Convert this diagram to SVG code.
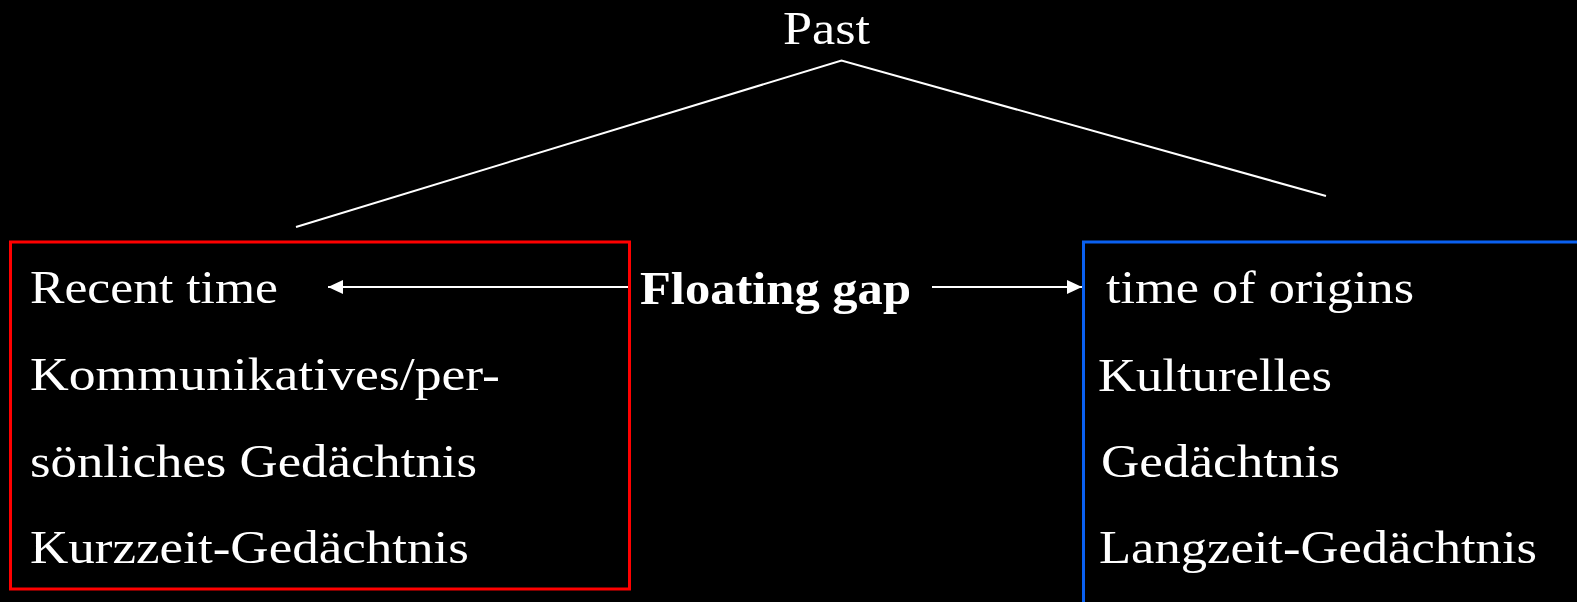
<svg xmlns="http://www.w3.org/2000/svg" width="1577" height="602" viewBox="0 0 1577 602">
<defs>
<style>
text{font-family:"Liberation Serif","Times New Roman",serif;font-size:46px;fill:#fff}
.b{font-weight:bold}
.conn{stroke:#fff;stroke-width:2;fill:none}
</style>
<marker id="ah" markerWidth="15" markerHeight="14" refX="15" refY="7" orient="auto" markerUnits="userSpaceOnUse">
<path d="M0,0 L15,7 L0,14 Z" fill="#fff"/>
</marker>
</defs>
<rect width="1577" height="602" fill="#000"/>
<g id="past"><text x="783" y="44" textLength="87" lengthAdjust="spacingAndGlyphs">Past</text></g>
<g id="recent">
<rect x="10.5" y="242" width="619" height="347" fill="none" stroke="#ff0000" stroke-width="3"/>
<text x="30" y="303" textLength="248" lengthAdjust="spacingAndGlyphs">Recent time</text>
<text x="30" y="390" textLength="470" lengthAdjust="spacingAndGlyphs">Kommunikatives/per-</text>
<text x="30" y="477" textLength="447" lengthAdjust="spacingAndGlyphs">sönliches Gedächtnis</text>
<text x="30" y="563" textLength="439" lengthAdjust="spacingAndGlyphs">Kurzzeit-Gedächtnis</text>
</g>
<g id="gap"><text class="b" x="640" y="304" textLength="271" lengthAdjust="spacingAndGlyphs">Floating gap</text></g>
<g id="origins">
<rect x="1083.5" y="242" width="510" height="380" fill="none" stroke="#0a60f0" stroke-width="3"/>
<text x="1106" y="303" textLength="308" lengthAdjust="spacingAndGlyphs">time of origins</text>
<text x="1098" y="391" textLength="234" lengthAdjust="spacingAndGlyphs">Kulturelles</text>
<text x="1101" y="477" textLength="239" lengthAdjust="spacingAndGlyphs">Gedächtnis</text>
<text x="1099" y="563" textLength="438" lengthAdjust="spacingAndGlyphs">Langzeit-Gedächtnis</text>
</g>
<g id="connectors">
<polyline class="conn" points="296,227 841.5,60.5 1326,196"/>
<line class="conn" x1="628" y1="287" x2="328" y2="287" marker-end="url(#ah)"/>
<line class="conn" x1="932" y1="287" x2="1082" y2="287" marker-end="url(#ah)"/>
</g>
</svg>
